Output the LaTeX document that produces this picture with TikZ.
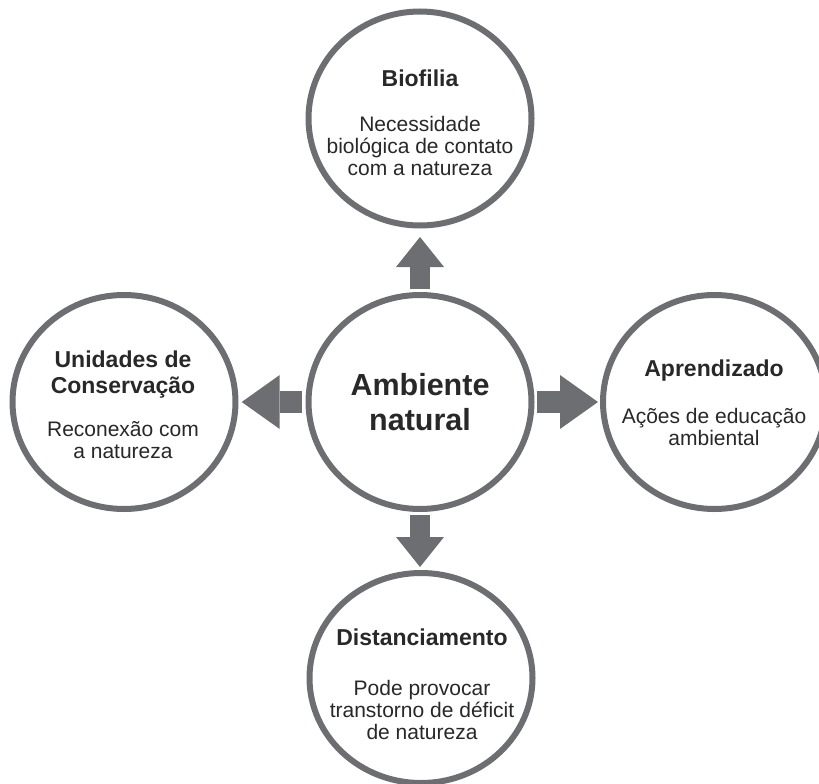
\documentclass[tikz,border=0pt]{standalone}
\usepackage{fontspec}
\setmainfont{Liberation Sans}
\usepackage{xcolor}
\usetikzlibrary{shapes.geometric,arrows.meta}
\definecolor{Cinza}{RGB}{109, 110, 113}
\definecolor{Grafite}{RGB}{40, 40, 40}

\begin{document}
\begin{tikzpicture}[x=1pt,y=-1pt,
    Circulo/.style={ellipse, draw=Cinza, line width=6pt, fill=white, minimum width=223pt, minimum height=214pt, inner sep=0pt},
    Titulo/.style={anchor=base, align=center, text=Grafite, font=\fontsize{23}{25.6}\selectfont\bfseries},
    Texto/.style={anchor=base, align=center, text=Grafite, font=\fontsize{21}{22}\selectfont},
    Seta/.style={draw=Cinza, line width=20pt, -{Triangle[width=48pt, length=30pt, line width=0pt]}},
    SetaH/.style={draw=Cinza, line width=22pt, -{Triangle[width=54pt, length=38pt, line width=0pt]}}]
            \useasboundingbox (0,0) rectangle (819,784);
            %Circulos
            \node[Circulo] (ambiente) at (420,402) {};
            \node[Circulo] (biofilia) at (420,118.5) {};
            \node[Circulo] (unidades) at (124,402) {};
            \node[Circulo] (aprendizado) at (714.5,402) {};
            \node[Circulo, minimum height=210pt] (distanciamento) at (421,678) {};
            %Textos (base = ultima linha)
            \node[Titulo, font=\fontsize{30.5}{35}\selectfont\bfseries] (ambienteT) at (420,430) {Ambiente\\natural};
            \node[Titulo] (biofiliaT) at (420,86) {Biofilia};
            \node[Texto] (biofiliaC) at (420,175.7) {Necessidade\\biológica de contato\\com a natureza};
            \node[Titulo] (unidadesT) at (123,393.3) {Unidades de\\Conservação};
            \node[Texto] (unidadesC) at (123,458.3) {Reconexão com\\a natureza};
            \node[Titulo] (aprendizadoT) at (714,376.7) {Aprendizado};
            \node[Texto] (aprendizadoC) at (714,445) {Ações de educação\\ambiental};
            \node[Titulo] (distanciamentoT) at (422,645) {Distanciamento};
            \node[Texto] (distanciamentoC) at (422,739) {Pode provocar\\transtorno de déficit\\de natureza};
            %Setas
            \draw[Seta, shorten <=3pt, shorten >=8.5pt] (ambiente.north) -- (biofilia.south);
            \draw[Seta, shorten <=3pt, shorten >=3pt] (ambiente.south) -- (ambiente.south |- distanciamento.north);
            \draw[SetaH, shorten <=3.5pt, shorten >=3.2pt] (ambiente.west) -- (unidades.east);
            \draw[SetaH, shorten <=2.2pt, shorten >=2pt] (ambiente.east) -- (aprendizado.west);
        \end{tikzpicture}
\end{document}
